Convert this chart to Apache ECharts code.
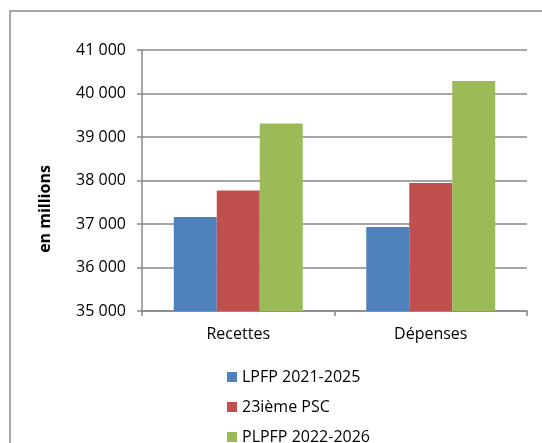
<!DOCTYPE html>
<html><head><meta charset="utf-8">
<script src="https://cdn.jsdelivr.net/npm/echarts@6/dist/echarts.min.js"></script>
<style>html,body{margin:0;padding:0;background:#fff}#c{width:542px;height:443px}</style>
</head><body><div id="c"></div>
<script>
const categories = ['Recettes', 'Dépenses'];
const seriesNames = ['LPFP 2021-2025', '23ième PSC', 'PLPFP 2022-2026'];
const lpfp = [37160, 36930];
const psc = [37770, 37940];
const plpfp = [39310, 40290];
const colors = ['#4F81BD', '#C0504D', '#9BBB59'];
const fontFam = '"Open Sans", "Noto Sans", sans-serif';
const chart = echarts.init(document.getElementById('c'));
const mk = (name, data, i) => ({
  name, type: 'bar', data, barGap: '0%', barCategoryGap: '33%',
  itemStyle: { color: colors[i] }
});
chart.setOption({
  animation: false,
  graphic: [
    { type: 'rect', shape: { x: 10, y: 11, width: 700, height: 700 }, style: { fill: 'none', stroke: '#8a8a8a', lineWidth: 1.5 }, silent: true },
    { type: 'text', x: 45, y: 209, rotation: Math.PI / 2, style: { text: 'en millions', font: 'bold 16px ' + fontFam, fill: '#000', textAlign: 'center', textVerticalAlign: 'middle' } }
  ],
  grid: { left: 142, right: 15, top: 50, bottom: 132, containLabel: false },
  legend: {
    orient: 'vertical', left: 227, top: 369, height: 120, padding: 0,
    itemWidth: 10, itemHeight: 10, itemGap: 14,
    icon: 'rect', textStyle: { fontSize: 16, fontFamily: fontFam, color: '#000' },
    data: seriesNames
  },
  xAxis: {
    type: 'category', data: categories,
    axisLine: { lineStyle: { color: '#888', width: 1.5 } },
    axisTick: { show: true, alignWithLabel: false, length: 5, lineStyle: { color: '#888', width: 1.5 } },
    axisLabel: { fontSize: 16, fontFamily: fontFam, color: '#000', margin: 15 }
  },
  yAxis: {
    type: 'value', min: 35000, max: 41000, interval: 1000,
    axisLine: { show: true, lineStyle: { color: '#888', width: 1.5 } },
    axisTick: { show: true, inside: false, length: 5, lineStyle: { color: '#888', width: 1.5 } },
    splitLine: { lineStyle: { color: '#888', width: 1.5 } },
    axisLabel: { fontSize: 16, fontFamily: fontFam, color: '#000', margin: 16,
      formatter: v => String(v).replace(/(\d+)(\d{3})$/, '$1 $2') }
  },
  series: [mk(seriesNames[0], lpfp, 0), mk(seriesNames[1], psc, 1), mk(seriesNames[2], plpfp, 2)]
});
</script></body></html>
